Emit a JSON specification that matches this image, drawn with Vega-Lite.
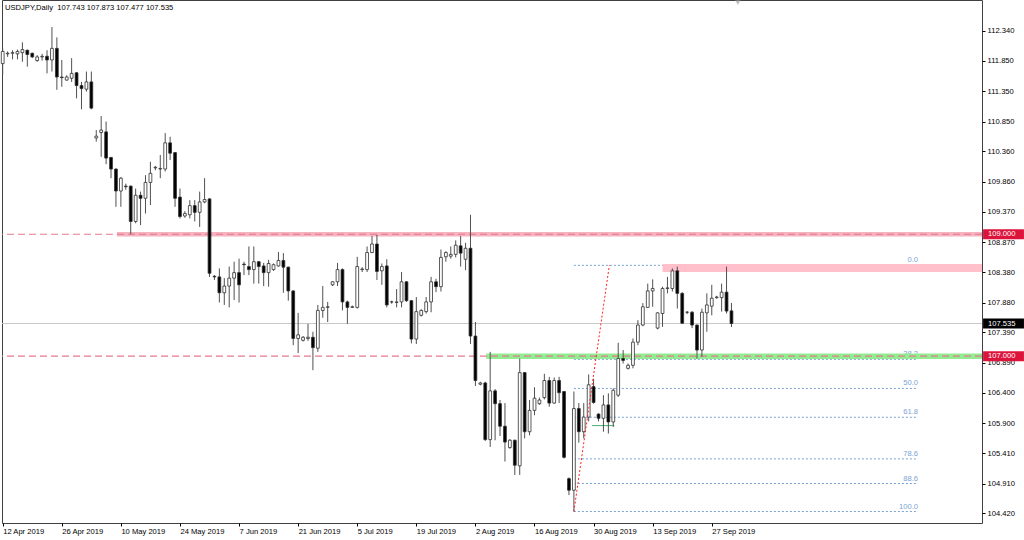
{
"$schema": "https://vega.github.io/schema/vega-lite/v6.json",
"width": 980, "height": 523,
"autosize": {"type": "none"},
"padding": {"left": 2, "top": 0, "right": 42, "bottom": 17},
"background": "#ffffff",
"config": {"view": {"stroke": "#404040", "strokeWidth": 1}, "font": "Liberation Sans", "scale": {"continuousPadding": 0}, "axis": {"labelOverlap": false}},
"datasets": {
"candles": [
{"i":0,"o":111.80,"h":112.05,"l":111.62,"c":112.00},
{"i":1,"o":111.96,"h":112.00,"l":111.91,"c":111.97},
{"i":2,"o":111.97,"h":112.02,"l":111.87,"c":111.98},
{"i":3,"o":111.96,"h":112.03,"l":111.87,"c":112.00},
{"i":4,"o":111.98,"h":112.15,"l":111.83,"c":112.03},
{"i":5,"o":112.02,"h":112.03,"l":111.75,"c":111.95},
{"i":6,"o":111.97,"h":111.98,"l":111.89,"c":111.91},
{"i":7,"o":111.85,"h":111.94,"l":111.83,"c":111.91},
{"i":8,"o":111.91,"h":111.96,"l":111.85,"c":111.92},
{"i":9,"o":111.92,"h":112.02,"l":111.64,"c":111.86},
{"i":10,"o":111.86,"h":112.40,"l":111.67,"c":112.05},
{"i":11,"o":112.05,"h":112.23,"l":111.37,"c":111.58},
{"i":12,"o":111.58,"h":111.86,"l":111.42,"c":111.57},
{"i":13,"o":111.53,"h":111.61,"l":111.52,"c":111.58},
{"i":14,"o":111.56,"h":111.89,"l":111.50,"c":111.64},
{"i":15,"o":111.65,"h":111.66,"l":111.23,"c":111.44},
{"i":16,"o":111.44,"h":111.50,"l":111.05,"c":111.39},
{"i":17,"o":111.38,"h":111.67,"l":111.34,"c":111.50},
{"i":18,"o":111.50,"h":111.67,"l":111.05,"c":111.07},
{"i":19,"o":110.58,"h":110.71,"l":110.52,"c":110.61},
{"i":20,"o":110.67,"h":110.94,"l":110.27,"c":110.71},
{"i":21,"o":110.68,"h":110.85,"l":110.15,"c":110.25},
{"i":22,"o":110.26,"h":110.27,"l":109.92,"c":110.07},
{"i":23,"o":110.07,"h":110.08,"l":109.45,"c":109.71},
{"i":24,"o":109.71,"h":109.94,"l":109.45,"c":109.92},
{"i":25,"o":109.79,"h":109.83,"l":109.73,"c":109.78},
{"i":26,"o":109.79,"h":109.80,"l":109.00,"c":109.21},
{"i":27,"o":109.21,"h":109.75,"l":109.18,"c":109.64},
{"i":28,"o":109.64,"h":109.70,"l":109.15,"c":109.59},
{"i":29,"o":109.59,"h":109.97,"l":109.34,"c":109.85},
{"i":30,"o":109.85,"h":110.19,"l":109.48,"c":110.00},
{"i":31,"o":110.09,"h":110.12,"l":110.05,"c":110.10},
{"i":32,"o":110.07,"h":110.30,"l":109.92,"c":110.08},
{"i":33,"o":110.07,"h":110.66,"l":110.03,"c":110.50},
{"i":34,"o":110.50,"h":110.60,"l":110.22,"c":110.33},
{"i":35,"o":110.34,"h":110.35,"l":109.45,"c":109.59},
{"i":36,"o":109.61,"h":109.75,"l":109.26,"c":109.29},
{"i":37,"o":109.30,"h":109.38,"l":109.27,"c":109.34},
{"i":38,"o":109.32,"h":109.56,"l":109.26,"c":109.47},
{"i":39,"o":109.47,"h":109.56,"l":109.21,"c":109.36},
{"i":40,"o":109.36,"h":109.70,"l":109.12,"c":109.53},
{"i":41,"o":109.53,"h":109.92,"l":109.51,"c":109.57},
{"i":42,"o":109.58,"h":109.59,"l":108.30,"c":108.36},
{"i":43,"o":108.31,"h":108.33,"l":108.25,"c":108.30},
{"i":44,"o":108.30,"h":108.44,"l":107.88,"c":108.04},
{"i":45,"o":108.04,"h":108.28,"l":107.84,"c":108.15},
{"i":46,"o":108.15,"h":108.47,"l":107.80,"c":108.28},
{"i":47,"o":108.28,"h":108.55,"l":107.92,"c":108.37},
{"i":48,"o":108.37,"h":108.60,"l":107.88,"c":108.17},
{"i":49,"o":108.51,"h":108.55,"l":108.33,"c":108.50},
{"i":50,"o":108.47,"h":108.80,"l":108.33,"c":108.42},
{"i":51,"o":108.42,"h":108.80,"l":108.19,"c":108.55},
{"i":52,"o":108.55,"h":108.56,"l":108.19,"c":108.47},
{"i":53,"o":108.48,"h":108.53,"l":108.15,"c":108.37},
{"i":54,"o":108.37,"h":108.58,"l":108.14,"c":108.52},
{"i":55,"o":108.42,"h":108.52,"l":108.40,"c":108.50},
{"i":56,"o":108.48,"h":108.71,"l":108.47,"c":108.57},
{"i":57,"o":108.57,"h":108.69,"l":108.04,"c":108.46},
{"i":58,"o":108.46,"h":108.47,"l":107.91,"c":108.07},
{"i":59,"o":108.07,"h":108.08,"l":107.18,"c":107.29},
{"i":60,"o":107.29,"h":107.71,"l":107.05,"c":107.35},
{"i":61,"o":107.26,"h":107.33,"l":107.24,"c":107.31},
{"i":62,"o":107.29,"h":107.53,"l":107.25,"c":107.31},
{"i":63,"o":107.31,"h":107.40,"l":106.77,"c":107.14},
{"i":64,"o":107.13,"h":107.84,"l":107.07,"c":107.75},
{"i":65,"o":107.75,"h":108.15,"l":107.63,"c":107.80},
{"i":66,"o":107.80,"h":107.89,"l":107.56,"c":107.81},
{"i":67,"o":108.17,"h":108.23,"l":108.15,"c":108.22},
{"i":68,"o":108.22,"h":108.53,"l":108.15,"c":108.42},
{"i":69,"o":108.42,"h":108.44,"l":107.75,"c":107.89},
{"i":70,"o":107.89,"h":107.91,"l":107.53,"c":107.80},
{"i":71,"o":107.80,"h":107.83,"l":107.79,"c":107.81},
{"i":72,"o":107.80,"h":108.63,"l":107.78,"c":108.47},
{"i":73,"o":108.42,"h":108.46,"l":108.38,"c":108.43},
{"i":74,"o":108.42,"h":108.80,"l":108.38,"c":108.70},
{"i":75,"o":108.70,"h":108.97,"l":108.69,"c":108.84},
{"i":76,"o":108.84,"h":108.99,"l":108.25,"c":108.39},
{"i":77,"o":108.40,"h":108.52,"l":108.17,"c":108.47},
{"i":78,"o":108.48,"h":108.59,"l":107.80,"c":107.84},
{"i":79,"o":107.89,"h":107.91,"l":107.86,"c":107.89},
{"i":80,"o":107.88,"h":108.10,"l":107.80,"c":107.89},
{"i":81,"o":107.89,"h":108.38,"l":107.80,"c":108.22},
{"i":82,"o":108.22,"h":108.23,"l":107.89,"c":107.91},
{"i":83,"o":107.91,"h":107.92,"l":107.21,"c":107.28},
{"i":84,"o":107.28,"h":107.97,"l":107.20,"c":107.73},
{"i":85,"o":107.67,"h":107.77,"l":107.65,"c":107.75},
{"i":86,"o":107.73,"h":107.97,"l":107.70,"c":107.89},
{"i":87,"o":107.89,"h":108.30,"l":107.72,"c":108.22},
{"i":88,"o":108.22,"h":108.27,"l":108.05,"c":108.14},
{"i":89,"o":108.14,"h":108.75,"l":108.06,"c":108.62},
{"i":90,"o":108.63,"h":108.72,"l":108.55,"c":108.70},
{"i":91,"o":108.64,"h":108.80,"l":108.60,"c":108.67},
{"i":92,"o":108.67,"h":108.90,"l":108.62,"c":108.82},
{"i":93,"o":108.81,"h":108.97,"l":108.47,"c":108.69},
{"i":94,"o":108.59,"h":108.86,"l":108.41,"c":108.77},
{"i":95,"o":108.77,"h":109.32,"l":107.20,"c":107.33},
{"i":96,"o":107.33,"h":107.56,"l":106.51,"c":106.60},
{"i":97,"o":106.54,"h":106.58,"l":106.52,"c":106.56},
{"i":98,"o":106.56,"h":106.58,"l":105.61,"c":105.63},
{"i":99,"o":105.63,"h":107.07,"l":105.51,"c":106.43},
{"i":100,"o":106.43,"h":106.46,"l":105.62,"c":106.22},
{"i":101,"o":106.22,"h":106.28,"l":105.69,"c":105.85},
{"i":102,"o":105.85,"h":106.23,"l":105.27,"c":105.59},
{"i":103,"o":105.50,"h":105.64,"l":105.48,"c":105.62},
{"i":104,"o":105.62,"h":105.63,"l":105.05,"c":105.21},
{"i":105,"o":105.20,"h":106.96,"l":105.05,"c":106.73},
{"i":106,"o":106.73,"h":106.74,"l":105.65,"c":105.76},
{"i":107,"o":105.76,"h":106.28,"l":105.70,"c":106.11},
{"i":108,"o":106.11,"h":106.49,"l":106.03,"c":106.31},
{"i":109,"o":106.22,"h":106.32,"l":106.20,"c":106.28},
{"i":110,"o":106.32,"h":106.71,"l":106.29,"c":106.60},
{"i":111,"o":106.60,"h":106.66,"l":106.17,"c":106.23},
{"i":112,"o":106.23,"h":106.65,"l":106.22,"c":106.60},
{"i":113,"o":106.60,"h":106.66,"l":106.23,"c":106.40},
{"i":114,"o":106.42,"h":106.42,"l":105.32,"c":105.34},
{"i":115,"o":104.99,"h":105.01,"l":104.72,"c":104.80},
{"i":116,"o":104.80,"h":106.42,"l":104.45,"c":106.14},
{"i":117,"o":106.14,"h":106.23,"l":105.58,"c":105.76},
{"i":118,"o":105.76,"h":106.23,"l":105.65,"c":106.00},
{"i":119,"o":106.00,"h":106.70,"l":105.93,"c":106.53},
{"i":120,"o":106.50,"h":106.63,"l":106.22,"c":106.24},
{"i":121,"o":106.05,"h":106.06,"l":105.93,"c":105.98},
{"i":122,"o":105.98,"h":106.36,"l":105.76,"c":106.20},
{"i":123,"o":106.20,"h":106.39,"l":105.73,"c":105.92},
{"i":124,"o":105.92,"h":106.47,"l":105.84,"c":106.44},
{"i":125,"o":106.36,"h":107.22,"l":106.33,"c":106.96},
{"i":126,"o":106.96,"h":107.10,"l":106.88,"c":106.93},
{"i":127,"o":106.80,"h":106.88,"l":106.78,"c":106.85},
{"i":128,"o":106.85,"h":107.29,"l":106.80,"c":107.23},
{"i":129,"o":107.23,"h":107.59,"l":107.18,"c":107.51},
{"i":130,"o":107.51,"h":107.87,"l":107.49,"c":107.81},
{"i":131,"o":107.80,"h":108.19,"l":107.79,"c":108.07},
{"i":132,"o":108.07,"h":108.26,"l":107.81,"c":108.11},
{"i":133,"o":107.46,"h":107.72,"l":107.44,"c":107.71},
{"i":134,"o":107.70,"h":108.14,"l":107.48,"c":108.11},
{"i":135,"o":108.11,"h":108.30,"l":108.03,"c":108.12},
{"i":136,"o":108.11,"h":108.44,"l":108.06,"c":108.40},
{"i":137,"o":108.40,"h":108.47,"l":107.78,"c":108.03},
{"i":138,"o":108.03,"h":108.05,"l":107.53,"c":107.54},
{"i":139,"o":107.72,"h":107.74,"l":107.69,"c":107.72},
{"i":140,"o":107.72,"h":107.74,"l":107.46,"c":107.51},
{"i":141,"o":107.51,"h":107.52,"l":106.96,"c":107.10},
{"i":142,"o":107.10,"h":107.78,"l":106.99,"c":107.72},
{"i":143,"o":107.71,"h":108.03,"l":107.40,"c":107.84},
{"i":144,"o":107.82,"h":108.17,"l":107.67,"c":107.95},
{"i":145,"o":107.96,"h":107.99,"l":107.94,"c":107.97},
{"i":146,"o":107.96,"h":108.19,"l":107.73,"c":108.05},
{"i":147,"o":108.05,"h":108.47,"l":107.70,"c":107.74},
{"i":148,"o":107.743,"h":107.873,"l":107.477,"c":107.535}
],
"fib": [
{"lvl":"0.0","p":108.49},{"lvl":"38.2","p":106.947},{"lvl":"50.0","p":106.47},
{"lvl":"61.8","p":105.997},{"lvl":"78.6","p":105.314},{"lvl":"88.6","p":104.91},{"lvl":"100.0","p":104.45}
]
},
"layer": [
{
"data": {"values": [{"p":107.535}]},
"mark": {"type":"rule","color":"#c8c8c8","strokeWidth":1},
"encoding": {"y": {"field":"p","type":"quantitative","scale":{"domain":[104.262,112.844],"nice":false,"zero":false,"padding":0},
 "axis": {"orient":"right","values":[112.34,111.85,111.35,110.85,110.36,109.86,109.37,108.87,108.38,107.88,107.39,106.89,106.4,105.9,105.41,104.91,104.42],
 "tickCount":40,"format":".3f","labelFont":"Liberation Sans","labelFontSize":7.6,"labelColor":"#000","tickColor":"#000","tickSize":3,"labelPadding":2,"labelOverlap":false,"labelFlush":false,"labelBound":false,"domain":false,"grid":false,"title":null}}}
},
{
"data": {"name":"fib"},
"mark": {"type":"rule","color":"#7aa2d4","strokeWidth":1,"strokeDash":[2,2]},
"encoding": {
 "x": {"datum":116,"type":"quantitative","scale":{"domain":[-0.142,198.88],"nice":false,"zero":false,"padding":0},
  "axis":{"orient":"bottom","values":[0,12,24,36,48,60,72,84,96,108,120,132,144],"tickCount":40,
  "labelExpr":"['12 Apr 2019','26 Apr 2019','10 May 2019','24 May 2019','7 Jun 2019','21 Jun 2019','5 Jul 2019','19 Jul 2019','2 Aug 2019','16 Aug 2019','30 Aug 2019','13 Sep 2019','27 Sep 2019'][round(datum.value/12)]",
  "labelAlign":"left","labelFont":"Liberation Sans","labelFontSize":7.6,"labelColor":"#000","tickColor":"#000","tickSize":3,"labelPadding":1,"labelOverlap":false,"labelFlush":false,"domain":false,"grid":false,"title":null}},
 "x2": {"datum":185.9},
 "y": {"field":"p","type":"quantitative"}
}
},
{
"data": {"name":"fib"},
"mark": {"type":"text","color":"#7aa2d4","font":"Liberation Sans","fontSize":7.6,"align":"right","baseline":"bottom","dy":-1},
"encoding": {"x": {"datum":185.9,"type":"quantitative"},"y": {"field":"p","type":"quantitative"},"text": {"field":"lvl"}}
},
{
"data": {"values": [{"start":23.2,"end":198.88,"p":109.0}]},
"mark": {"type":"bar","color":"#f6b2bf","size":4.5},
"encoding": {"x":{"field":"start","type":"quantitative"},"x2":{"field":"end"},"y":{"field":"p","type":"quantitative"}}
},
{
"data": {"values": [{"start":98.2,"end":198.88,"p":107.0}]},
"mark": {"type":"bar","color":"#90ee90","size":5.5},
"encoding": {"x":{"field":"start","type":"quantitative"},"x2":{"field":"end"},"y":{"field":"p","type":"quantitative"}}
},
{
"data": {"values": [{"start":134.0,"end":198.88,"low":108.38,"high":108.51}]},
"mark": {"type":"rect","color":"#ffc0cb"},
"encoding": {"x":{"field":"start","type":"quantitative"},"x2":{"field":"end"},"y":{"field":"low","type":"quantitative"},"y2":{"field":"high"}}
},
{
"data": {"values": [{"p":109.0},{"p":107.0}]},
"mark": {"type":"rule","color":"#e5798e","strokeWidth":1.2,"strokeDash":[7,4]},
"encoding": {"y": {"field":"p","type":"quantitative"}}
},
{
"data": {"values": [{"start":119.7,"end":124.2,"p":105.86}]},
"mark": {"type":"rule","color":"#3cb371","strokeWidth":1},
"encoding": {"x":{"field":"start","type":"quantitative"},"x2":{"field":"end"},"y":{"field":"p","type":"quantitative"}}
},
{
"data": {"name":"candles"},
"mark": {"type":"rule","color":"#505050","strokeWidth":1},
"encoding": {"x":{"field":"i","type":"quantitative"},"y":{"field":"l","type":"quantitative"},"y2":{"field":"h"}}
},
{
"data": {"name":"candles"},
"mark": {"type":"bar","size":2.8,"stroke":"#303030","strokeWidth":0.8},
"encoding": {"x":{"field":"i","type":"quantitative"},"y":{"field":"o","type":"quantitative"},"y2":{"field":"c"},
 "fill": {"condition": {"test":"datum.c < datum.o","value":"#000000"},"value":"#ffffff"}}
},
{
"data": {"values": [{"i1":116,"p1":104.45,"i2":123.2,"p2":108.49}]},
"mark": {"type":"rule","color":"#ff2020","strokeWidth":1,"strokeDash":[2,2]},
"encoding": {"x":{"field":"i1","type":"quantitative"},"y":{"field":"p1","type":"quantitative"},"x2":{"field":"i2"},"y2":{"field":"p2"}}
},
{
"data": {"values": [{"p":109.0,"t":"109.000","k":"line"},{"p":107.0,"t":"107.000","k":"line"},{"p":107.535,"t":"107.535","k":"last"}]},
"layer": [
 {"mark": {"type":"bar","size":10},
  "encoding": {"x":{"datum":199.1,"type":"quantitative"},"x2":{"datum":207.4},"y":{"field":"p","type":"quantitative"},
   "color": {"condition":{"test":"datum.k == 'last'","value":"#000000"},"value":"#dc143c"}}},
 {"mark": {"type":"text","color":"#ffffff","font":"Liberation Sans","fontSize":7.6,"align":"left","baseline":"middle"},
  "encoding": {"x":{"datum":200.1,"type":"quantitative"},"y":{"field":"p","type":"quantitative"},"text":{"field":"t"}}}
]
},
{
"data": {"values": [{"t":"USDJPY,Daily\u00a0\u00a0107.743 107.873 107.477 107.535"}]},
"mark": {"type":"text","color":"#000000","font":"Liberation Sans","fontSize":7.6,"align":"left","baseline":"middle"},
"encoding": {"x":{"datum":0.47,"type":"quantitative"},"y":{"datum":112.712,"type":"quantitative"},"text":{"field":"t"}}
},
{
"data": {"values": [{"i":149.3,"p":112.80}]},
"mark": {"type":"point","shape":"triangle-down","filled":true,"color":"#a8a8a8","size":30},
"encoding": {"x":{"field":"i","type":"quantitative"},"y":{"field":"p","type":"quantitative"}}
}
]
}
